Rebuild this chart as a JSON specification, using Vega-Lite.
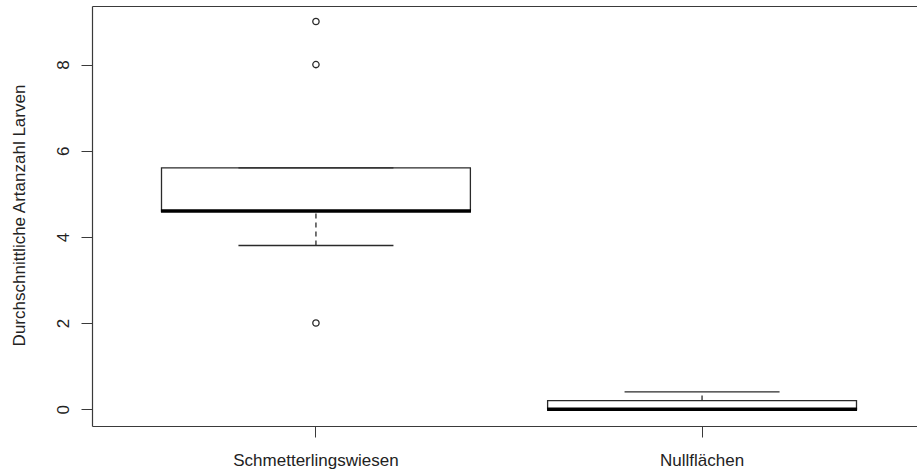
{
  "$schema": "https://vega.github.io/schema/vega-lite/v6.json",
  "autosize": {"type": "none"},
  "padding": {"left": 92, "top": 6, "right": 0, "bottom": 46},
  "width": 825,
  "height": 420,
  "background": "white",
  "datasets": {
    "boxes": [
      {"group": "Schmetterlingswiesen", "lower": 3.8, "q1": 4.6, "median": 4.6, "q3": 5.6, "upper": 5.6},
      {"group": "Nullflächen", "lower": 0, "q1": 0, "median": 0, "q3": 0.2, "upper": 0.4}
    ],
    "outliers": [
      {"group": "Schmetterlingswiesen", "value": 9},
      {"group": "Schmetterlingswiesen", "value": 8},
      {"group": "Schmetterlingswiesen", "value": 2}
    ]
  },
  "config": {
    "view": {"stroke": null},
    "font": "Liberation Sans",
    "axis": {"domainColor": "#3a3a3a", "tickColor": "#3a3a3a", "labelColor": "#222222", "titleColor": "#222222", "labelFontSize": 17, "titleFontSize": 17, "titleFontWeight": "normal", "grid": false, "domainWidth": 1.2},
    "axisY": {"tickSize": 11, "labelAngle": 270, "labelAlign": "center", "labelBaseline": "alphabetic", "labelPadding": 13, "labelFontSize": 17, "titleAngle": 270, "titleAlign": "center", "titleBaseline": "alphabetic", "titleX": -68, "titleY": 209}
  },
  "layer": [
    {
      "data": {"name": "boxes"},
      "mark": {"type": "bar", "fill": "white", "stroke": "#2a2a2a", "strokeWidth": 1.3, "opacity": 1},
      "encoding": {
        "x": {"field": "group", "type": "nominal", "sort": null,
              "scale": {"range": [0, 834], "paddingInner": 0.2, "paddingOuter": 0.18},
              "axis": {"orient": "bottom", "title": null, "labelAngle": 0, "tickSize": 11, "labelPadding": 28, "labelBaseline": "alphabetic"}},
        "y": {"field": "q1", "type": "quantitative", "title": "Durchschnittliche Artanzahl Larven",
              "scale": {"domain": [-0.39, 9.36], "nice": false, "zero": false},
              "axis": {"values": [0, 2, 4, 6, 8]}},
        "y2": {"field": "q3"}
      }
    },
    {
      "data": {"name": "boxes"},
      "mark": {"type": "rule", "stroke": "#2a2a2a", "strokeWidth": 1.3, "strokeDash": [5, 4], "opacity": 1},
      "encoding": {
        "x": {"field": "group", "type": "nominal", "sort": null, "axis": null},
        "y": {"field": "lower", "type": "quantitative", "title": "Durchschnittliche Artanzahl Larven", "axis": {"values": [0, 2, 4, 6, 8]}},
        "y2": {"field": "q1"}
      }
    },
    {
      "data": {"name": "boxes"},
      "mark": {"type": "rule", "stroke": "#2a2a2a", "strokeWidth": 1.3, "strokeDash": [5, 4], "opacity": 1},
      "encoding": {
        "x": {"field": "group", "type": "nominal", "sort": null, "axis": null},
        "y": {"field": "q3", "type": "quantitative", "title": "Durchschnittliche Artanzahl Larven", "axis": {"values": [0, 2, 4, 6, 8]}},
        "y2": {"field": "upper"}
      }
    },
    {
      "data": {"name": "boxes"},
      "mark": {"type": "tick", "color": "#2a2a2a", "size": 155, "thickness": 1.3, "opacity": 1},
      "encoding": {
        "x": {"field": "group", "type": "nominal", "sort": null, "axis": null},
        "y": {"field": "lower", "type": "quantitative", "title": "Durchschnittliche Artanzahl Larven", "axis": {"values": [0, 2, 4, 6, 8]}}
      }
    },
    {
      "data": {"name": "boxes"},
      "mark": {"type": "tick", "color": "#2a2a2a", "size": 155, "thickness": 1.3, "opacity": 1},
      "encoding": {
        "x": {"field": "group", "type": "nominal", "sort": null, "axis": null},
        "y": {"field": "upper", "type": "quantitative", "title": "Durchschnittliche Artanzahl Larven", "axis": {"values": [0, 2, 4, 6, 8]}}
      }
    },
    {
      "data": {"name": "boxes"},
      "mark": {"type": "tick", "color": "#000000", "size": 310, "thickness": 3.5, "opacity": 1},
      "encoding": {
        "x": {"field": "group", "type": "nominal", "sort": null,
              "axis": {"orient": "top", "title": null, "labels": false, "ticks": false}},
        "y": {"field": "median", "type": "quantitative", "title": "Durchschnittliche Artanzahl Larven", "axis": {"values": [0, 2, 4, 6, 8]}}
      }
    },
    {
      "data": {"name": "outliers"},
      "mark": {"type": "point", "shape": "circle", "filled": false, "size": 40, "stroke": "#2a2a2a", "strokeWidth": 1.3, "opacity": 1},
      "encoding": {
        "x": {"field": "group", "type": "nominal", "sort": null, "axis": null},
        "y": {"field": "value", "type": "quantitative", "title": "Durchschnittliche Artanzahl Larven", "axis": {"values": [0, 2, 4, 6, 8]}}
      }
    }
  ]
}
